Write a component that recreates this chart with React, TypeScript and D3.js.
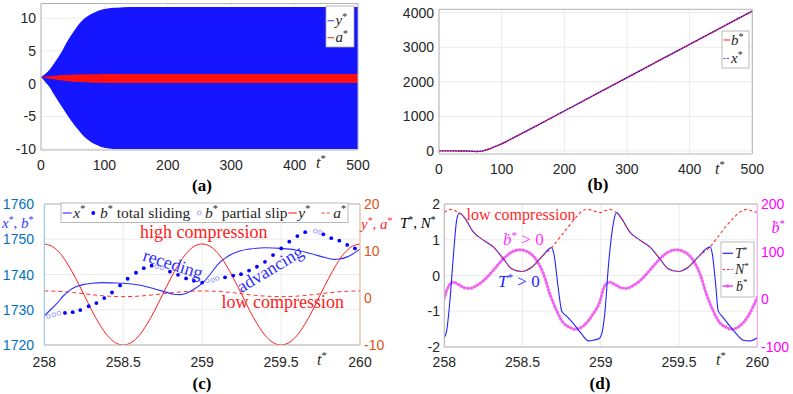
import React from "react";
import * as d3 from "d3";

// ---------- (a) envelopes of y* and a* (the oscillation is too dense to resolve)
const tA = [0, 7, 14, 20, 27, 34, 40, 47, 54, 60, 67, 74, 80, 87, 93, 100, 110, 120, 140, 200, 300, 400, 500];
const yMaxA = [1.0, 1.5, 2.2, 3.0, 4.0, 5.1, 6.2, 7.3, 8.3, 9.1, 9.85, 10.35, 10.7, 11.0, 11.2, 11.4, 11.55, 11.6, 11.7, 11.7, 11.7, 11.7, 11.7];
const yMinA = [1.0, 0.2, -0.6, -1.6, -2.65, -3.7, -4.6, -5.6, -6.5, -7.2, -8.0, -8.6, -9.0, -9.35, -9.6, -9.8, -9.95, -10.0, -10.0, -10.0, -10.0, -10.0, -10.0];
const aMaxA = [1.0, 1.08, 1.15, 1.2, 1.26, 1.3, 1.33, 1.36, 1.38, 1.4, 1.42, 1.43, 1.44, 1.45, 1.45, 1.46, 1.46, 1.46, 1.46, 1.46, 1.46, 1.46, 1.46];
const aMinA = [1.0, 0.88, 0.76, 0.66, 0.55, 0.46, 0.39, 0.32, 0.27, 0.23, 0.2, 0.17, 0.15, 0.13, 0.12, 0.11, 0.1, 0.1, 0.1, 0.1, 0.1, 0.1, 0.1];
const xTicksA = [0, 100, 200, 300, 400, 500];
const yTicksA = [-10, -5, 0, 5, 10];

// ---------- (b) b* and x* over the whole run
const tB = [0, 20, 40, 50, 55, 60, 65, 70, 75, 80, 85, 90, 100, 110, 120, 150, 200, 300, 400, 500];
const bStarB = [0, 0, -3, -8, -13, -16, -13, 0, 25, 55, 90, 130, 205, 295, 388, 675, 1155, 2120, 3085, 4050];
const xStarB = [0, 0, -3, -8, -13, -16, -13, 0, 25, 55, 90, 130, 205, 295, 388, 675, 1155, 2120, 3085, 4050];
const xTicksB = [0, 100, 200, 300, 400, 500];
const yTicksB = [0, 1000, 2000, 3000, 4000];

// ---------- (c) zoom on t* = 258..260
const tYC = [258, 258.05, 258.1, 258.15, 258.2, 258.25, 258.3, 258.35, 258.4, 258.45, 258.5, 258.55, 258.6, 258.65, 258.7, 258.75, 258.8, 258.85, 258.9, 258.95,
  259, 259.05, 259.1, 259.15, 259.2, 259.25, 259.3, 259.35, 259.4, 259.45, 259.5, 259.55, 259.6, 259.65, 259.7, 259.75, 259.8, 259.85, 259.9, 259.95, 260];
const yStarC = [11.5, 11.0, 9.5, 7.1, 4.1, 0.8, -2.6, -5.6, -8.0, -9.5, -10.0, -9.5, -8.0, -5.6, -2.6, 0.8, 4.1, 7.1, 9.5, 11.0,
  11.5, 11.0, 9.5, 7.1, 4.1, 0.8, -2.6, -5.6, -8.0, -9.5, -10.0, -9.5, -8.0, -5.6, -2.6, 0.8, 4.1, 7.1, 9.5, 11.0, 11.5];
const tAC = [258, 258.1, 258.2, 258.3, 258.4, 258.5, 258.6, 258.7, 258.8, 258.9, 259, 259.1, 259.2, 259.3, 259.4, 259.5, 259.6, 259.7, 259.8, 259.9, 260];
const aStarC = [1.5, 1.4, 1.1, 0.7, 0.4, 0.3, 0.4, 0.7, 1.1, 1.4, 1.5, 1.4, 1.1, 0.7, 0.4, 0.3, 0.4, 0.7, 1.1, 1.4, 1.5];
const tXC = [258, 258.04, 258.08, 258.12, 258.16, 258.2, 258.25, 258.3, 258.37, 258.45, 258.5, 258.6, 258.7, 258.77, 258.82, 258.86, 258.9, 258.94, 259,
  259.05, 259.1, 259.15, 259.2, 259.25, 259.3, 259.4, 259.5, 259.6, 259.7, 259.78, 259.83, 259.87, 259.92, 259.96, 260];
const xStarC = [1728.3, 1730.0, 1731.8, 1733.9, 1735.5, 1736.5, 1737.2, 1737.5, 1737.7, 1737.6, 1737.5, 1737.0, 1735.9, 1735.0, 1734.4, 1734.3, 1734.7, 1735.6, 1737.5,
  1740.0, 1742.9, 1744.8, 1746.0, 1746.8, 1747.2, 1747.6, 1747.4, 1746.9, 1745.8, 1744.8, 1744.3, 1744.4, 1745.0, 1746.0, 1747.2];
const tSlide = [258.131, 258.18, 258.228, 258.281, 258.33, 258.38, 258.429, 258.48, 258.528, 258.581, 258.63, 258.68, 258.796, 258.847, 258.898, 258.948, 259.0,
  259.145, 259.197, 259.246, 259.297, 259.347, 259.398, 259.449, 259.501, 259.552, 259.603, 259.653, 259.768, 259.818, 259.869, 259.919, 259.968];
const bSlide = [1729.1, 1729.3, 1729.9, 1731.0, 1731.9, 1733.3, 1734.9, 1736.9, 1738.8, 1740.5, 1741.8, 1742.5, 1740.8, 1739.9, 1738.9, 1738.2, 1737.7,
  1739.2, 1739.7, 1740.1, 1741.1, 1742.2, 1743.6, 1745.5, 1747.4, 1749.3, 1750.9, 1752.0, 1751.4, 1750.3, 1749.6, 1748.4, 1747.4];
const tSlip = [258.027, 258.061, 258.093, 258.712, 258.745, 259.033, 259.067, 259.096, 259.717, 259.747];
const bSlip = [1728.1, 1728.6, 1729.0, 1742.2, 1741.9, 1738.2, 1738.4, 1738.9, 1752.3, 1752.0];
const xTicksC = [258, 258.5, 259, 259.5, 260];
const yTicksC = [1720, 1730, 1740, 1750, 1760];
const y2TicksC = [-10, 0, 10, 20];

// ---------- (d) T*, N*, b-dot* on t* = 258..260
const tT = [258.0, 258.015, 258.036, 258.058, 258.079, 258.096, 258.132, 258.185, 258.25, 258.313, 258.377, 258.43, 258.495, 258.558, 258.622, 258.686, 258.7, 258.73, 258.75, 258.78, 258.82, 258.878, 258.92, 258.96, 258.99,
  259.008, 259.027, 259.048, 259.08, 259.1, 259.132, 259.185, 259.25, 259.313, 259.377, 259.43, 259.495, 259.558, 259.622, 259.698, 259.712, 259.735, 259.75, 259.773, 259.815, 259.868, 259.91, 259.953, 260.0];
const TStar = [-1.74, -1.55, -0.7, 0.55, 1.55, 1.75, 1.6, 1.22, 0.99, 0.8, 0.47, 0.19, 0.11, 0.23, 0.52, 0.78, 0.61, -0.42, -0.99, -1.13, -1.32, -1.64, -1.83, -1.8, -1.76,
  -1.6, -0.99, 0.23, 1.46, 1.76, 1.6, 1.22, 0.99, 0.8, 0.47, 0.19, 0.11, 0.23, 0.52, 0.8, 0.62, -0.3, -0.99, -1.13, -1.36, -1.64, -1.81, -1.83, -1.74];
const tN = [258.0, 258.02, 258.04, 258.06, 258.08, 258.096, 258.132, 258.185, 258.25, 258.313, 258.377, 258.43, 258.495, 258.558, 258.622, 258.686, 258.73, 258.79, 258.84, 258.88, 258.92, 258.96,
  259.0, 259.03, 259.06, 259.085, 259.1, 259.132, 259.185, 259.25, 259.313, 259.377, 259.43, 259.495, 259.558, 259.622, 259.698, 259.74, 259.8, 259.846, 259.89, 259.932, 259.97, 260.0];
const NStar = [1.76, 1.82, 1.85, 1.83, 1.78, 1.75, 1.6, 1.22, 0.99, 0.8, 0.47, 0.19, 0.11, 0.23, 0.52, 0.78, 1.02, 1.35, 1.62, 1.8, 1.85, 1.8,
  1.76, 1.82, 1.85, 1.8, 1.76, 1.6, 1.22, 0.99, 0.8, 0.47, 0.19, 0.11, 0.23, 0.52, 0.8, 1.03, 1.38, 1.6, 1.78, 1.85, 1.8, 1.76];
const tBd = [258.0, 258.015, 258.036, 258.058, 258.09, 258.132, 258.164, 258.207, 258.25, 258.313, 258.377, 258.43, 258.484, 258.537, 258.59, 258.633, 258.675, 258.718, 258.76, 258.803, 258.835, 258.888, 258.942,
  259.0, 259.016, 259.036, 259.059, 259.09, 259.132, 259.164, 259.207, 259.25, 259.313, 259.377, 259.43, 259.484, 259.537, 259.59, 259.633, 259.675, 259.718, 259.76, 259.803, 259.835, 259.888, 259.942, 260.0];
const bDot = [3, 18, 32, 36, 31, 24, 23, 29, 39, 61, 85, 99, 104, 99, 82, 54, 11, -24, -49, -59, -63, -56, -35,
  2, 22, 33, 36, 31, 24, 23, 29, 39, 61, 85, 99, 104, 99, 82, 54, 11, -24, -49, -59, -63, -56, -35, 4];
const xTicksD = [258, 258.5, 259, 259.5, 260];
const yTicksD = [-2, -1, 0, 1, 2];
const y2TicksD = [-100, 0, 100, 200];

const SANS = "'Liberation Sans', Arial, Helvetica, sans-serif";
const SERIF = "'Liberation Serif', 'Times New Roman', 'DejaVu Serif', serif";
const TXT = "#262626";
const GRID = "#ebebeb";
const FRAME = "#b5b5b5";

type Part = { t: string; it?: boolean; sup?: boolean };
const v = (s: string): Part[] => [{ t: s, it: true }, { t: "*", sup: true }];

function Rich({ parts, size }: { parts: Part[]; size: number }) {
  let off = 0;
  return (
    <>
      {parts.map((p, i) => {
        const target = p.sup ? -size * 0.36 : 0;
        const dy = target - off;
        off = target;
        return (
          <tspan key={i} dy={dy} fontSize={p.sup ? size * 0.66 : size} fontStyle={p.it ? "italic" : "normal"}>
            {p.t}
          </tspan>
        );
      })}
    </>
  );
}

type Box = { l: number; r: number; t: number; b: number };

function Grid({ box, x, y, xt, yt }: any) {
  return (
    <g stroke={GRID} strokeWidth={1}>
      {xt.map((d: number) => (
        <line key={"x" + d} x1={x(d)} x2={x(d)} y1={box.t} y2={box.b} />
      ))}
      {yt.map((d: number) => (
        <line key={"y" + d} x1={box.l} x2={box.r} y1={y(d)} y2={y(d)} />
      ))}
    </g>
  );
}

function Frame({ box, left = FRAME, right = FRAME }: { box: Box; left?: string; right?: string }) {
  return (
    <g fill="none" strokeWidth={1}>
      <line x1={box.l} x2={box.r} y1={box.t} y2={box.t} stroke={FRAME} />
      <line x1={box.l} x2={box.r} y1={box.b} y2={box.b} stroke={FRAME} />
      <line x1={box.l} x2={box.l} y1={box.t} y2={box.b} stroke={left} />
      <line x1={box.r} x2={box.r} y1={box.t} y2={box.b} stroke={right} />
    </g>
  );
}

function XLabels({ x, ticks, y }: any) {
  return (
    <g fontFamily={SANS} fontSize={14} fill={TXT} textAnchor="middle">
      {ticks.map((d: number) => (
        <text key={d} x={x(d)} y={y}>
          {d}
        </text>
      ))}
    </g>
  );
}

function YLabels({ y, ticks, x, anchor, color }: any) {
  return (
    <g fontFamily={SANS} fontSize={14} fill={color} textAnchor={anchor}>
      {ticks.map((d: number) => (
        <text key={d} x={x} y={y(d)} dy="0.36em">
          {d}
        </text>
      ))}
    </g>
  );
}

export default function App() {
  // ---- panel (a)
  const boxA: Box = { l: 41, r: 358, t: 3.5, b: 150 };
  const xA = d3.scaleLinear().domain([0, 500]).range([boxA.l, boxA.r]);
  const yA = d3.scaleLinear().domain([-10.15, 12.25]).range([boxA.b, boxA.t]);
  const idxA = tA.map((_, i) => i);
  const bandY = d3.area<number>().x((i) => xA(tA[i])).y0((i) => yA(yMinA[i])).y1((i) => yA(yMaxA[i])).curve(d3.curveMonotoneX);
  const bandA = d3.area<number>().x((i) => xA(tA[i])).y0((i) => yA(aMinA[i])).y1((i) => yA(aMaxA[i])).curve(d3.curveMonotoneX);

  // ---- panel (b)
  const boxB: Box = { l: 439, r: 752.3, t: 9.3, b: 154 };
  const xB = d3.scaleLinear().domain([0, 500]).range([boxB.l, boxB.r]);
  const yB = d3.scaleLinear().domain([-90, 4100]).range([boxB.b, boxB.t]);
  const lineB = (vals: number[]) =>
    d3.line<number>().x((d, i) => xB(tB[i])).y((d) => yB(d)).curve(d3.curveMonotoneX)(vals) || "";

  // ---- panel (c)
  const boxC: Box = { l: 44.3, r: 360, t: 204, b: 345 };
  const xC = d3.scaleLinear().domain([258, 260]).range([boxC.l, boxC.r]);
  const yC = d3.scaleLinear().domain([1720, 1760]).range([boxC.b, boxC.t]);
  const y2C = d3.scaleLinear().domain([-10, 20]).range([boxC.b, boxC.t]);
  const lineC = (ts: number[], vals: number[], ys: any, curve: any = d3.curveMonotoneX) =>
    d3.line<number>().x((d, i) => xC(ts[i])).y((d) => ys(d)).curve(curve)(vals) || "";

  // ---- panel (d)
  const boxD: Box = { l: 444.3, r: 757.3, t: 204, b: 347 };
  const xD = d3.scaleLinear().domain([258, 260]).range([boxD.l, boxD.r]);
  const yD = d3.scaleLinear().domain([-2, 2]).range([boxD.b, boxD.t]);
  const y2D = d3.scaleLinear().domain([-100, 200]).range([boxD.b, boxD.t]);
  const lineD = (ts: number[], vals: number[], ys: any) =>
    d3.line<number>().x((d, i) => xD(ts[i])).y((d) => ys(d)).curve(d3.curveMonotoneX)(vals) || "";

  const CBLUE = "#0072BD";
  const CORANGE = "#D95319";
  const MAG = "#ff00ff";

  return (
    <svg width={793} height={394} style={{ position: "absolute", left: 0, top: 0, background: "#fff" }}>
      <rect width={793} height={394} fill="#fff" />
      <defs>
        <clipPath id="clipA">
          <rect x={boxA.l} y={boxA.t} width={boxA.r - boxA.l} height={boxA.b - boxA.t} />
        </clipPath>
        <clipPath id="clipC">
          <rect x={boxC.l} y={boxC.t} width={boxC.r - boxC.l} height={boxC.b - boxC.t} />
        </clipPath>
        <clipPath id="clipD">
          <rect x={boxD.l} y={boxD.t} width={boxD.r - boxD.l} height={boxD.b - boxD.t} />
        </clipPath>
      </defs>

      {/* ================= (a) ================= */}
      <Grid box={boxA} x={xA} y={yA} xt={xTicksA} yt={yTicksA} />
      <g clipPath="url(#clipA)">
        <path d={bandY(idxA) || ""} fill="#1515ff" />
        <path d={bandA(idxA) || ""} fill="#ff1010" />
      </g>
      <Frame box={boxA} />
      <XLabels x={xA} ticks={xTicksA} y={170} />
      <YLabels y={yA} ticks={yTicksA} x={36} anchor="end" color={TXT} />
      <text x={316} y={168} fontFamily={SERIF} fill={TXT}>
        <Rich parts={v("t")} size={16} />
      </text>
      <text x={202} y={191} fontFamily={SERIF} fontWeight="bold" fontSize={17} textAnchor="middle" fill="#000">
        (a)
      </text>
      <g>
        <rect x={326} y={6} width={28} height={41} fill="#fff" stroke="#a8a8a8" strokeWidth={0.8} />
        <line x1={327.5} x2={334} y1={20.7} y2={20.7} stroke="#5050ff" strokeWidth={1.2} />
        <text x={335.5} y={25} fontFamily={SERIF} fill={TXT}>
          <Rich parts={v("y")} size={15} />
        </text>
        <line x1={327.5} x2={334} y1={37.7} y2={37.7} stroke="#ff4040" strokeWidth={1.2} />
        <text x={335.5} y={42} fontFamily={SERIF} fill={TXT}>
          <Rich parts={v("a")} size={15} />
        </text>
      </g>

      {/* ================= (b) ================= */}
      <Grid box={boxB} x={xB} y={yB} xt={xTicksB} yt={yTicksB} />
      <path d={lineB(bStarB)} fill="none" stroke="#ff2020" strokeWidth={1.4} />
      <path d={lineB(xStarB)} fill="none" stroke="#1a1aff" strokeWidth={1.4} strokeDasharray="1.5 1.2" />
      <Frame box={boxB} />
      <XLabels x={xB} ticks={xTicksB} y={174} />
      <YLabels y={yB} ticks={yTicksB} x={434} anchor="end" color={TXT} />
      <text x={715} y={174} fontFamily={SERIF} fill={TXT}>
        <Rich parts={v("t")} size={16} />
      </text>
      <text x={598} y={190} fontFamily={SERIF} fontWeight="bold" fontSize={17} textAnchor="middle" fill="#000">
        (b)
      </text>
      <g>
        <rect x={722} y={31} width={27} height={37} fill="#fff" stroke="#a8a8a8" strokeWidth={0.8} />
        <line x1={723.5} x2={730} y1={40} y2={40} stroke="#ff4040" strokeWidth={1.2} />
        <text x={731} y={45} fontFamily={SERIF} fill={TXT}>
          <Rich parts={v("b")} size={15} />
        </text>
        <line x1={723.5} x2={730} y1={58.5} y2={58.5} stroke="#4040ff" strokeWidth={1.2} strokeDasharray="2 1.5" />
        <text x={731} y={63} fontFamily={SERIF} fill={TXT}>
          <Rich parts={v("x")} size={15} />
        </text>
      </g>

      {/* ================= (c) ================= */}
      <Grid box={boxC} x={xC} y={yC} xt={xTicksC} yt={yTicksC} />
      <g clipPath="url(#clipC)">
        <path d={lineC(tAC, aStarC, y2C)} fill="none" stroke="#ff3030" strokeWidth={1} strokeDasharray="4 3" />
        <path d={lineC(tYC, yStarC, y2C, d3.curveCatmullRom)} fill="none" stroke="#ff1a1a" strokeWidth={1} />
        <path d={lineC(tXC, xStarC, yC)} fill="none" stroke="#2f2fff" strokeWidth={1.1} />
        {tSlide.map((t, i) => (
          <circle key={"s" + i} cx={xC(t)} cy={yC(bSlide[i])} r={1.9} fill="#0000ff" />
        ))}
        {tSlip.map((t, i) => (
          <circle key={"p" + i} cx={xC(t)} cy={yC(bSlip[i])} r={1.9} fill="none" stroke="#8a8aff" strokeWidth={0.8} />
        ))}
      </g>
      <Frame box={boxC} left="#8cc0e4" right="#f0b090" />
      <XLabels x={xC} ticks={xTicksC} y={367} />
      <YLabels y={yC} ticks={yTicksC} x={34} anchor="end" color={CBLUE} />
      <YLabels y={y2C} ticks={y2TicksC} x={364} anchor="start" color={CORANGE} />
      <text x={2} y={228} fontFamily={SERIF} fill="#3a3aff">
        <Rich parts={[...v("x"), { t: ", " }, ...v("b")]} size={15} />
      </text>
      <text x={361} y={229} fontFamily={SERIF} fill="#ff3030">
        <Rich parts={[...v("y"), { t: ", " }, ...v("a")]} size={15} />
      </text>
      <text x={317} y={365} fontFamily={SERIF} fill={TXT}>
        <Rich parts={v("t")} size={16} />
      </text>
      <text x={202} y={389} fontFamily={SERIF} fontWeight="bold" fontSize={17} textAnchor="middle" fill="#000">
        (c)
      </text>
      <g fontFamily={SERIF} fontSize={18}>
        <text x={140} y={238} fill="#ff2020">high compression</text>
        <text x={221.5} y={308} fill="#ff2020">low compression</text>
        <text x={173} y={264} fill="#2f2fff" textAnchor="middle" dominantBaseline="central" transform="rotate(18 173 264)">
          receding
        </text>
        <text x={270} y={269} fill="#2f2fff" textAnchor="middle" dominantBaseline="central" transform="rotate(-31 270 269)">
          advancing
        </text>
      </g>
      <g>
        <rect x={61} y={203} width={287} height={19.5} fill="#fff" stroke="#a8a8a8" strokeWidth={0.8} />
        <line x1={62.7} x2={71.7} y1={213} y2={213} stroke="#3a3aff" strokeWidth={1.2} />
        <text x={73.3} y={217.5} fontFamily={SERIF} fill={TXT}>
          <Rich parts={v("x")} size={15.5} />
        </text>
        <circle cx={93.3} cy={213} r={1.9} fill="#0000ff" />
        <text x={100} y={217.5} fontFamily={SERIF} fill={TXT}>
          <Rich parts={[...v("b"), { t: " total sliding" }]} size={15.5} />
        </text>
        <circle cx={199.3} cy={213} r={1.9} fill="none" stroke="#8a8aff" strokeWidth={0.8} />
        <text x={205} y={217.5} fontFamily={SERIF} fill={TXT}>
          <Rich parts={[...v("b"), { t: " partial slip" }]} size={15.5} />
        </text>
        <line x1={288.3} x2={296.7} y1={213} y2={213} stroke="#ff3030" strokeWidth={1.2} />
        <text x={298.3} y={217.5} fontFamily={SERIF} fill={TXT}>
          <Rich parts={v("y")} size={15.5} />
        </text>
        <line x1={321.7} x2={331} y1={213} y2={213} stroke="#ff3030" strokeWidth={1.2} strokeDasharray="3 2" />
        <text x={333.3} y={217.5} fontFamily={SERIF} fill={TXT}>
          <Rich parts={v("a")} size={15.5} />
        </text>
      </g>

      {/* ================= (d) ================= */}
      <Grid box={boxD} x={xD} y={yD} xt={xTicksD} yt={yTicksD} />
      <g clipPath="url(#clipD)">
        <path d={lineD(tBd, bDot, y2D)} fill="none" stroke="#f060f0" strokeOpacity={0.75} strokeWidth={1.8} />
        <path d={lineD(tBd, bDot, y2D)} fill="none" stroke="#f050f0" strokeOpacity={0.7} strokeWidth={3.4} strokeLinecap="round" strokeDasharray="0.1 3.4" />
        <path d={lineD(tT, TStar, yD)} fill="none" stroke="#2424ff" strokeWidth={1.1} />
        <path d={lineD(tN, NStar, yD)} fill="none" stroke="#ff3030" strokeWidth={1.1} strokeDasharray="3 2.5" />
      </g>
      <Frame box={boxD} right="#f7a0f7" />
      <XLabels x={xD} ticks={xTicksD} y={367} />
      <YLabels y={yD} ticks={yTicksD} x={440} anchor="end" color={TXT} />
      <YLabels y={y2D} ticks={y2TicksD} x={761} anchor="start" color={MAG} />
      <text x={400} y={228} fontFamily={SERIF} fill="#000">
        <Rich parts={[...v("T"), { t: ", " }, ...v("N")]} size={15} />
      </text>
      <text x={771.5} y={233} fontFamily={SERIF} fill={MAG}>
        <Rich parts={v("ḃ")} size={16} />
      </text>
      <text x={716} y={365} fontFamily={SERIF} fill={TXT}>
        <Rich parts={v("t")} size={16} />
      </text>
      <text x={600} y={389} fontFamily={SERIF} fontWeight="bold" fontSize={17} textAnchor="middle" fill="#000">
        (d)
      </text>
      <g fontFamily={SERIF}>
        <text x={466.5} y={220} fontSize={16} fill="#ff2a2a">low compression</text>
        <text x={503} y={245} fill="#ff33ff">
          <Rich parts={[...v("ḃ"), { t: " > 0" }]} size={17} />
        </text>
        <text x={498} y={287} fill="#2424ff">
          <Rich parts={[...v("T"), { t: " > 0" }]} size={17} />
        </text>
      </g>
      <g>
        <rect x={721} y={242} width={33} height={55} fill="#fff" stroke="#a8a8a8" strokeWidth={0.8} />
        <line x1={722.5} x2={733} y1={253.3} y2={253.3} stroke="#2424ff" strokeWidth={1.2} />
        <text x={735} y={258} fontFamily={SERIF} fill={TXT}>
          <Rich parts={v("T")} size={14} />
        </text>
        <line x1={722.5} x2={733} y1={269.5} y2={269.5} stroke="#ff3030" strokeWidth={1.2} strokeDasharray="2.5 2" />
        <text x={735} y={274} fontFamily={SERIF} fill={TXT}>
          <Rich parts={v("N")} size={14} />
        </text>
        <line x1={722.5} x2={733} y1={286} y2={286} stroke="#f060f0" strokeWidth={1.8} />
        <circle cx={727.7} cy={286} r={1.8} fill="#f050f0" />
        <text x={736} y={290.5} fontFamily={SERIF} fill={TXT}>
          <Rich parts={v("ḃ")} size={14} />
        </text>
      </g>
    </svg>
  );
}
